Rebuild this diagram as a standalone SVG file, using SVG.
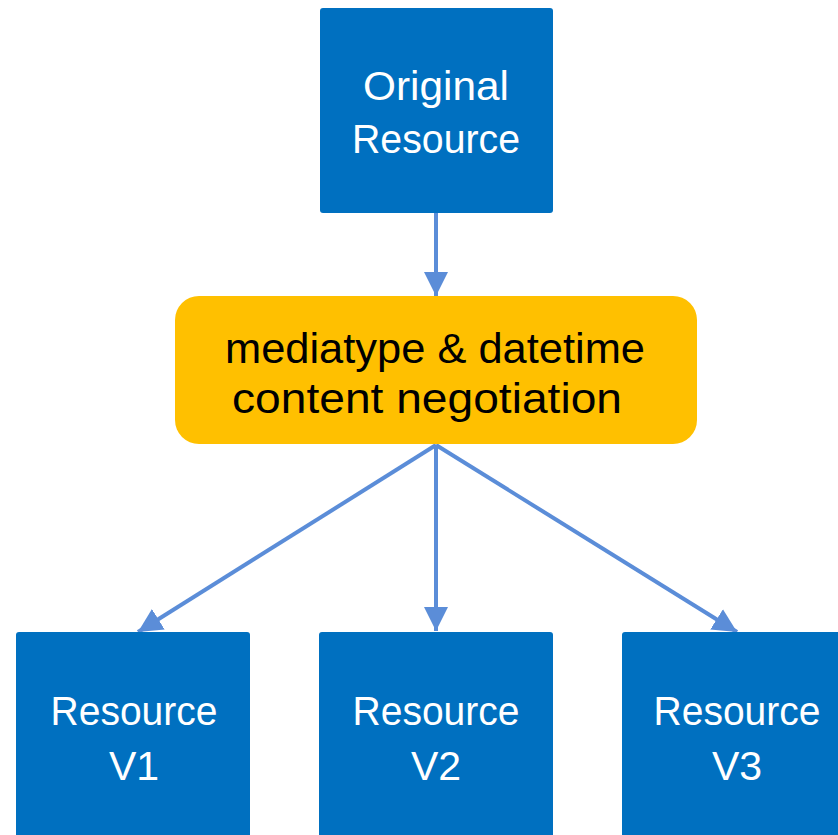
<svg xmlns="http://www.w3.org/2000/svg" width="838" height="835" viewBox="0 0 838 835">
<style>
.box{fill:#0070C0;}
.neg{fill:#FFC000;}
.wt{fill:#ffffff;font-family:"Liberation Sans",Arial,sans-serif;font-size:41px;text-anchor:middle;}
.bt{fill:#000000;font-family:"Liberation Sans",Arial,sans-serif;font-size:42px;text-anchor:middle;}
.edge{stroke:#5B8DD8;stroke-width:4;fill:none;marker-end:url(#ah);}
</style>
<defs>
<marker id="ah" viewBox="0 0 10 10" refX="10" refY="5" markerWidth="6" markerHeight="6" orient="auto" markerUnits="strokeWidth">
<path d="M0,0 L10,5 L0,10 z" fill="#5B8DD8"/>
</marker>
</defs>
<rect width="838" height="835" fill="#ffffff"/>
<g id="connectors">
<line class="edge" x1="436" y1="213" x2="436" y2="296"/>
<line class="edge" x1="436" y1="445" x2="436" y2="631"/>
<line class="edge" x1="436" y1="445" x2="138" y2="632"/>
<line class="edge" x1="436" y1="445" x2="737" y2="632"/>
</g>
<g id="original">
<rect class="box" x="320" y="8" width="233" height="205" rx="3"/>
<text class="wt" x="436" y="100" textLength="146" lengthAdjust="spacingAndGlyphs">Original</text>
<text class="wt" x="436" y="153" textLength="168" lengthAdjust="spacingAndGlyphs">Resource</text>
</g>
<g id="negotiation">
<rect class="neg" x="175" y="296" width="522" height="148" rx="24"/>
<text class="bt" x="435" y="363" textLength="420" lengthAdjust="spacingAndGlyphs">mediatype &amp; datetime</text>
<text class="bt" x="427" y="413" textLength="390" lengthAdjust="spacingAndGlyphs">content negotiation</text>
</g>
<g id="v1">
<rect class="box" x="16" y="632" width="234" height="210" rx="3"/>
<text class="wt" x="134" y="725" textLength="167" lengthAdjust="spacingAndGlyphs">Resource</text>
<text class="wt" x="134" y="780">V1</text>
</g>
<g id="v2">
<rect class="box" x="319" y="632" width="234" height="210" rx="3"/>
<text class="wt" x="436" y="725" textLength="167" lengthAdjust="spacingAndGlyphs">Resource</text>
<text class="wt" x="436" y="780">V2</text>
</g>
<g id="v3">
<rect class="box" x="622" y="632" width="234" height="210" rx="3"/>
<text class="wt" x="737" y="725" textLength="167" lengthAdjust="spacingAndGlyphs">Resource</text>
<text class="wt" x="737" y="780">V3</text>
</g>
</svg>
